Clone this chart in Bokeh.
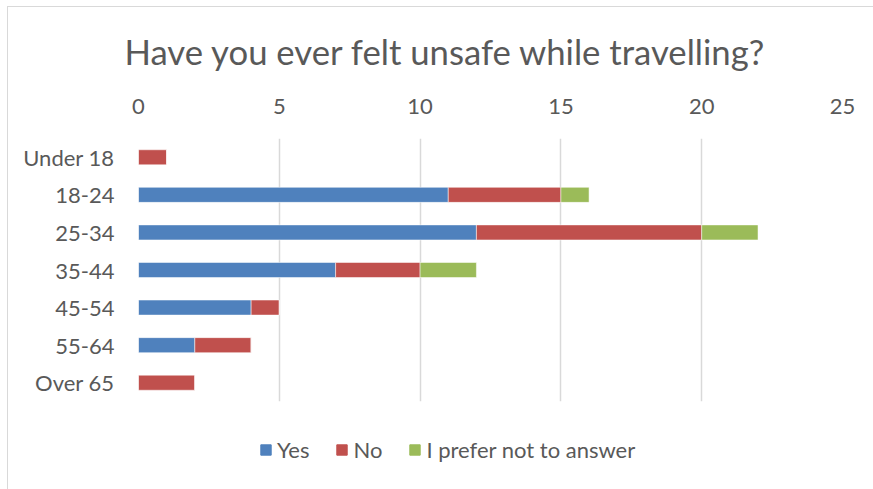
from bokeh.plotting import figure
from bokeh.layouts import column
from bokeh.models import ColumnDataSource, FactorRange, Range1d, Legend, LegendItem, FixedTicker
from bokeh.embed import file_html
from bokeh.resources import INLINE

categories = ["Under 18", "18-24", "25-34", "35-44", "45-54", "55-64", "Over 65"]
yes = [0, 11, 12, 7, 4, 2, 0]
no = [1, 4, 8, 3, 1, 2, 2]
prefer_not = [0, 1, 2, 2, 0, 0, 0]
series_names = ["Yes", "No", "I prefer not to answer"]
x_ticks = [0, 5, 10, 15, 20, 25]

colors = ["#4F81BD", "#C0504D", "#9BBB59"]
text_color = "#595959"
border_color = "#d9d9d9"
font = "Lato"

source = ColumnDataSource(dict(cat=categories, yes=yes, no=no, prefer=prefer_not))

p = figure(width=866, height=414, output_backend="svg", toolbar_location=None,
           y_range=FactorRange(factors=list(reversed(categories))),
           x_range=Range1d(0, 25), x_axis_location="above",
           min_border_left=130, min_border_right=32, min_border_top=131, min_border_bottom=20,
           title="Have you ever felt unsafe while travelling?")
p.margin = (6, 0, 0, 7)
p.styles = {"border-top": "1px solid " + border_color, "border-left": "1px solid " + border_color}

renderers = p.hbar_stack(["yes", "no", "prefer"], y="cat", height=0.4, color=colors,
                         line_color="white", line_width=0.5, source=source)

p.outline_line_color = None
p.title.align = "left"
p.title.vertical_align = "top"
p.title.offset = -14
p.title.text_font = font
p.title.text_font_style = "normal"
p.title.text_font_size = "34.7px"
p.title.text_color = text_color
p.title.standoff = 44

p.xaxis.ticker = FixedTicker(ticks=x_ticks)
p.xaxis.axis_line_color = None
p.xaxis.major_tick_line_color = None
p.xaxis.minor_tick_line_color = None
p.xaxis.major_label_text_font = font
p.xaxis.major_label_text_font_size = "22px"
p.xaxis.major_label_text_color = text_color
p.xaxis.major_label_standoff = 19

p.yaxis.axis_line_color = None
p.yaxis.major_tick_line_color = None
p.yaxis.major_label_text_font = font
p.yaxis.major_label_text_font_size = "22px"
p.yaxis.major_label_text_color = text_color
p.yaxis.major_label_standoff = 18

p.ygrid.grid_line_color = None
p.xgrid.grid_line_color = border_color
p.xgrid.grid_line_width = 1.5

# legend strip below the chart; its swatch renderers sit outside the visible range
lg = figure(width=866, height=69, output_backend="svg", toolbar_location=None,
            x_range=Range1d(0, 1), y_range=Range1d(0, 1),
            x_axis_type=None, y_axis_type=None,
            min_border=0, min_border_left=0, min_border_right=0, min_border_top=0, min_border_bottom=0)
lg.margin = (0, 0, 0, 7)
lg.styles = {"border-left": "1px solid " + border_color}
lg.outline_line_color = None
lg.xgrid.visible = False
lg.ygrid.visible = False
offscreen = ColumnDataSource(dict(y=[-10], left=[0], right=[1]))
swatches = [lg.hbar(y="y", left="left", right="right", height=0.4, color=c, source=offscreen) for c in colors]

legend = Legend(items=[LegendItem(label=n, renderers=[r]) for n, r in zip(series_names, swatches)],
                orientation="horizontal", location=(121, 26),
                glyph_width=13, glyph_height=13, spacing=26, label_standoff=5,
                label_text_font=font, label_text_font_size="22px", label_text_color=text_color,
                border_line_color=None, background_fill_alpha=0, padding=0, margin=0)
lg.add_layout(legend, "center")

layout = column(p, lg, spacing=0)
open("out.html", "w").write(file_html(layout, INLINE))
